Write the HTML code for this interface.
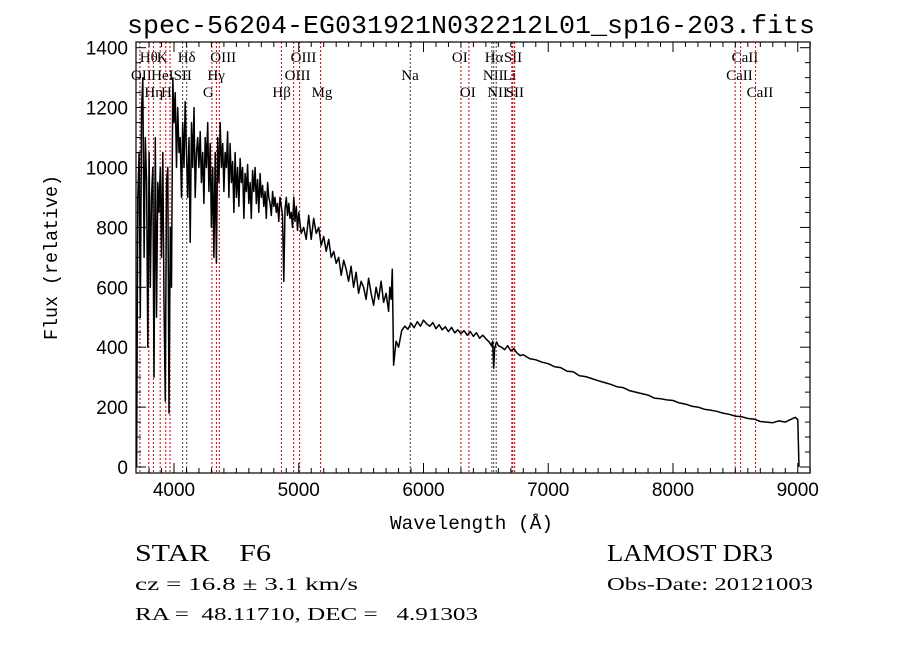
<!DOCTYPE html>
<html><head><meta charset="utf-8"><style>
html,body{margin:0;padding:0;background:#fff;}
svg{display:block;font-family:"Liberation Mono",monospace;}
svg text{white-space:pre;}
</style></head><body>
<svg id="chart" width="900" height="649" viewBox="0 0 900 649" xmlns="http://www.w3.org/2000/svg">
<rect width="900" height="649" fill="#fff"/>
<text x="127" y="33" font-size="26" textLength="688" lengthAdjust="spacingAndGlyphs" font-family="Liberation Mono, monospace">spec-56204-EG031921N032212L01_sp16-203.fits</text>
<g id="lines"></g>
<g id="spec"></g>
<g id="axes"></g>
<text x="390" y="529" font-size="19" textLength="163" lengthAdjust="spacingAndGlyphs">Wavelength (Å)</text>
<text transform="translate(57,340) rotate(-90)" font-size="19" textLength="165" lengthAdjust="spacingAndGlyphs">Flux (relative)</text>
<g font-family="Liberation Serif, serif">
<text x="135" y="561" font-size="24" textLength="136" lengthAdjust="spacingAndGlyphs" xml:space="preserve">STAR    F6</text>
<text x="607" y="561" font-size="24" textLength="166" lengthAdjust="spacingAndGlyphs">LAMOST DR3</text>
<text x="135" y="590" font-size="18" textLength="223" lengthAdjust="spacingAndGlyphs" xml:space="preserve">cz = 16.8 ± 3.1 km/s</text>
<text x="607" y="590" font-size="18" textLength="206" lengthAdjust="spacingAndGlyphs">Obs-Date: 20121003</text>
<text x="135" y="620" font-size="18" textLength="343" lengthAdjust="spacingAndGlyphs" xml:space="preserve">RA =  48.11710, DEC =   4.91303</text>
</g>
</svg>
<script>
// Spectrum data
const waveBlue = [3700,3710,3720,3730,3740,3750,3760,3770,3780,3790,3800,3810,3820,3830,3840,3850,3860,3870,3880,3890,3900,3910,3920,3930,3940,3950,3960,3970,3980,3990,4000,4010,4020,4030,4040,4050,4060,4070,4080,4090,4100,4110,4120,4130,4140,4150,4160,4170,4180,4190,4200,4210,4220,4230,4240,4250,4260,4270,4280,4290,4300,4310,4320,4330,4340,4350,4360,4370,4380,4390,4400,4410,4420,4430,4440,4450,4460,4470,4480,4490,4500,4510,4520,4530,4540,4550,4560,4570,4580,4590,4600,4610,4620,4630,4640,4650,4660,4670,4680,4690,4700,4710,4720,4730,4740,4750,4760,4770,4780,4790,4800,4810,4820,4830,4840,4850,4860,4870,4880,4890,4900,4910,4920,4930,4940,4950,4960,4970,4980,4990,5000,5020,5040,5060,5080,5100,5120,5140,5160,5180,5200,5220,5240,5260,5280,5300,5320,5340,5360,5380,5400,5420,5440,5460,5480,5500,5520,5540,5560,5580,5600,5620,5640,5660,5680,5700,5720,5730,5740,5750,5760,5780,5800];
const fluxBlue = [0,900,1050,500,1200,1300,700,1100,950,400,1050,600,900,1000,300,1100,500,950,850,1000,700,1050,550,220,950,1000,180,800,600,1300,1150,1250,1000,1200,1050,1100,900,1150,1000,1220,1050,900,1100,750,1150,1000,1200,900,1050,1100,1000,1120,950,1050,880,1100,1000,1150,920,1080,800,1000,700,1050,680,1100,950,1150,1000,1080,920,1050,1000,1120,900,1080,950,1020,850,1050,900,1000,870,1030,950,1000,830,980,920,1010,880,950,830,990,920,1000,880,960,850,980,900,940,870,920,830,950,900,880,840,920,870,900,850,880,820,900,870,840,620,860,900,840,880,830,850,800,900,820,870,790,850,780,800,760,840,760,830,780,800,740,770,720,760,700,720,680,700,640,690,660,620,670,600,650,580,620,600,560,630,580,540,600,560,620,550,580,520,600,560,660,340,420,400,430,440];
const waveRed = [5825,5850,5875,5900,5925,5950,5975,6000,6025,6050,6075,6100,6125,6150,6175,6200,6225,6250,6275,6300,6325,6350,6375,6400,6425,6450,6475,6500,6525,6545,6555,6563,6570,6585,6600,6625,6650,6675,6700,6725,6750,6775,6800,6850,6900,6950,7000,7050,7100,7150,7200,7250,7300,7350,7400,7450,7500,7550,7600,7650,7700,7750,7800,7850,7900,7950,8000,8050,8100,8150,8200,8250,8300,8350,8400,8450,8500,8550,8600,8650,8700,8750,8800,8850,8900,8950,8980,9000,9010];
const fluxRed = [455,470,460,480,465,485,470,490,478,470,482,462,475,458,468,452,466,448,458,445,455,440,452,436,448,430,440,428,418,405,420,330,395,418,405,400,392,405,388,395,380,372,375,362,358,350,345,335,332,320,318,305,302,295,288,282,276,268,265,255,250,245,240,230,228,224,222,214,210,203,200,193,190,186,180,176,170,168,162,160,152,150,148,154,150,160,166,158,0];
// Emission/absorption line markers
const lineWaves = [3727,3798,3835,3889,3934,3968,4069,4102,4304,4340,4363,4861,4959,5007,5175,5894,6300,6364,6548,6563,6583,6708,6716,6731,8498,8542,8662];
const lineColors = ["r","r","r","r","r","r","k","k","r","r","r","r","r","r","r","k","r","r","k","k","k","r","r","r","r","r","r"];
const labelText = ["OII","Hθ","Hη","HeI","K","H","SII","Hδ","G","Hγ","OIII","Hβ","OIII","OIII","Mg","Na","OI","OI","NII","Hα","NII","Li","SII","SII","CaII","CaII","CaII"];
const labelRow = [2,1,3,2,1,3,2,1,3,2,1,3,2,1,3,2,1,3,2,1,3,2,1,3,2,1,3];
const xTicks = [4000,5000,6000,7000,8000,9000];
const yTicks = [0,200,400,600,800,1000,1200,1400];

const NS="http://www.w3.org/2000/svg";
const L=136,R=810,T=42,B=473;
const xs=w=>174+(w-4000)*0.12475;
const ys=f=>467-f*0.2995;
function mk(tag,attrs,parent){const e=document.createElementNS(NS,tag);for(const k in attrs)e.setAttribute(k,attrs[k]);parent.appendChild(e);return e;}

const gl=document.getElementById('lines');
lineWaves.forEach((w,i)=>{
  const ln=mk('line',{x1:xs(w),x2:xs(w),y1:T,y2:B,stroke:lineColors[i]==="r"?"#c00":"#444","stroke-width":1,"stroke-dasharray":"2,2"},gl);
  
  
  const rowY=[0,62,80,97][labelRow[i]];
  const t=mk('text',{x:xs(w)-9,y:rowY,"font-size":15,"font-family":"Liberation Serif, serif"},gl);
  t.textContent=labelText[i];
  
  
});

const gs=document.getElementById('spec');
function seg(W,F){
  const n=Math.min(W.length,F.length);
  let s="";
  for(let i=0;i<n;i++) s+=(i?"L":"")+xs(W[i]).toFixed(1)+","+ys(F[i]).toFixed(1);
  return s;
}
const d="M"+seg(waveBlue,fluxBlue)+"L"+seg(waveRed,fluxRed);
const p=mk('path',{d:d,fill:"none",stroke:"#000","stroke-width":1.5,"stroke-linejoin":"round"},gs);



const ga=document.getElementById('axes');
const fr=mk('rect',{x:L,y:T,width:R-L,height:B-T,fill:"none",stroke:"#000","stroke-width":1.2},ga);


for(let w=3800;w<=9100;w+=100){
  const major=w%1000===0,len=major?10:5,x=xs(w);
  mk('line',{x1:x,x2:x,y1:B,y2:B-len,stroke:"#000"},ga);
  mk('line',{x1:x,x2:x,y1:T,y2:T+len,stroke:"#000"},ga);
}
xTicks.forEach(w=>{
  const t=mk('text',{x:xs(w),y:B+23,"font-size":19,"text-anchor":"middle","font-family":"Liberation Sans, sans-serif"},ga);
  t.textContent=w;
  
  
});
for(let f=0;f<=1400;f+=50){
  const major=f%200===0,len=major?10:5,y=ys(f);
  mk('line',{x1:L,x2:L+len,y1:y,y2:y,stroke:"#000"},ga);
  mk('line',{x1:R,x2:R-len,y1:y,y2:y,stroke:"#000"},ga);
}
yTicks.forEach(f=>{
  const t=mk('text',{x:L-8,y:ys(f)+7,"font-size":19,"text-anchor":"end","font-family":"Liberation Sans, sans-serif"},ga);
  t.textContent=f;
  
  
});
</script>
</body></html>
